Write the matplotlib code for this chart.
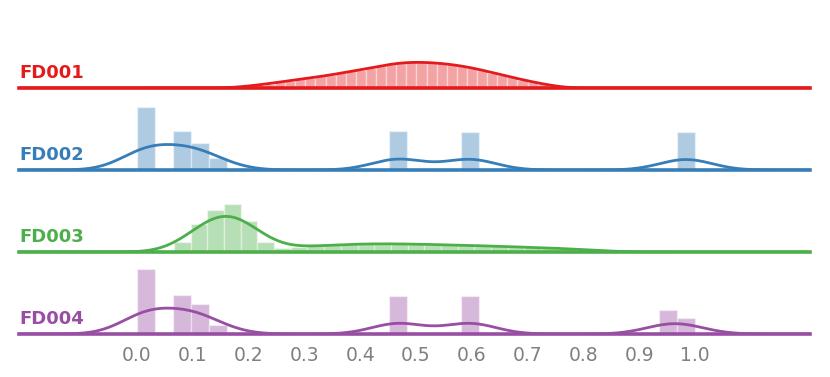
import numpy as np
import matplotlib
matplotlib.use("Agg")
import matplotlib.pyplot as plt

# ---- data (densities) ----
names = ["FD001", "FD002", "FD003", "FD004"]
colors = ["#e41a1c", "#377eb8", "#4daf4a", "#984ea3"]
ticks = [0.0, 0.1, 0.2, 0.3, 0.4, 0.5, 0.6, 0.7, 0.8, 0.9, 1.0]

# FD001: regular bins starting at fd001_start
fd001_start = 0.175
fd001_width = 0.0181
fd001_density = [0.12, 0.24, 0.39, 0.54, 0.72, 0.90, 1.06, 1.20, 1.39, 1.57,
                 1.78, 2.00, 2.22, 2.43, 2.67, 2.95, 3.07, 3.17, 3.13, 3.08,
                 2.99, 2.86, 2.67, 2.47, 2.17, 1.87, 1.57, 1.27, 0.99, 0.72,
                 0.48, 0.30]

# FD002: only a few occupied bins (width 1/31)
fd002_width = 0.0323
fd002_left = [0.0, 0.0645, 0.0968, 0.1290, 0.4516, 0.5806, 0.9677]
fd002_density = [7.65, 4.72, 3.22, 1.42, 4.70, 4.60, 4.60]

# FD003: regular bins starting at fd003_start
fd003_start = 0.0663
fd003_width = 0.0299
fd003_density = [1.20, 3.37, 5.10, 5.78, 3.80, 1.17, 0.48,
                 0.60, 0.70, 0.85, 0.95, 1.00, 1.00, 1.00, 0.95, 0.90,
                 0.85, 0.80, 0.75, 0.70, 0.60, 0.55, 0.50, 0.40, 0.30, 0.20]

# FD004
fd004_width = 0.0323
fd004_left = [0.0, 0.0645, 0.0968, 0.1290, 0.4516, 0.5806, 0.9355, 0.9677]
fd004_density = [7.80, 4.66, 3.58, 1.05, 4.60, 4.60, 2.90, 1.90]


def kde(left, width, dens, bw, grid):
    # gaussian smoothing of the histogram mass
    c = np.asarray(left) + width / 2
    w = np.asarray(dens) * width
    z = (grid[:, None] - c[None, :]) / bw
    return (w * np.exp(-0.5 * z ** 2)).sum(1) / (bw * np.sqrt(2 * np.pi))


fd001_left = fd001_start + fd001_width * np.arange(len(fd001_density))
fd003_left = fd003_start + fd003_width * np.arange(len(fd003_density))

rows = [(fd001_left, fd001_width, fd001_density, 0.025),
        (fd002_left, fd002_width, fd002_density, 0.047),
        (fd003_left, fd003_width, fd003_density, 0.040),
        (fd004_left, fd004_width, fd004_density, 0.047)]

fig, axes = plt.subplots(4, 1, figsize=(8.3, 3.77), dpi=100, sharex=True)
fig.subplots_adjust(left=19/830, right=810/830, bottom=43/377, top=371/377, hspace=0)

xmin, xmax = -0.2115, 1.2061
grid = np.linspace(xmin, xmax, 600)

for ax, name, col, (left, width, dens, bw) in zip(axes, names, colors, rows):
    ax.bar(left, dens, width=width, align="edge", color=col, alpha=0.4,
           edgecolor="white", linewidth=1)
    ax.plot(grid, kde(left, width, dens, bw, grid), color=col, lw=2)
    ax.axhline(0, color=col, lw=2.6, clip_on=False)
    ax.text(0, 0.18, name, fontweight="bold", fontsize=13, color=col,
            ha="left", va="center", transform=ax.transAxes)
    ax.set_xlim(xmin, xmax)
    ax.set_ylim(0, 9.9)
    ax.set_yticks([])
    for s in ax.spines.values():
        s.set_visible(False)
    ax.patch.set_alpha(0)
    ax.tick_params(axis="x", length=0)

axes[-1].set_xticks(ticks)
axes[-1].set_xticklabels(["%.1f" % t for t in ticks])
axes[-1].tick_params(axis="x", labelsize=13.5, labelcolor="gray", pad=8.5)

fig.savefig("out.png")
